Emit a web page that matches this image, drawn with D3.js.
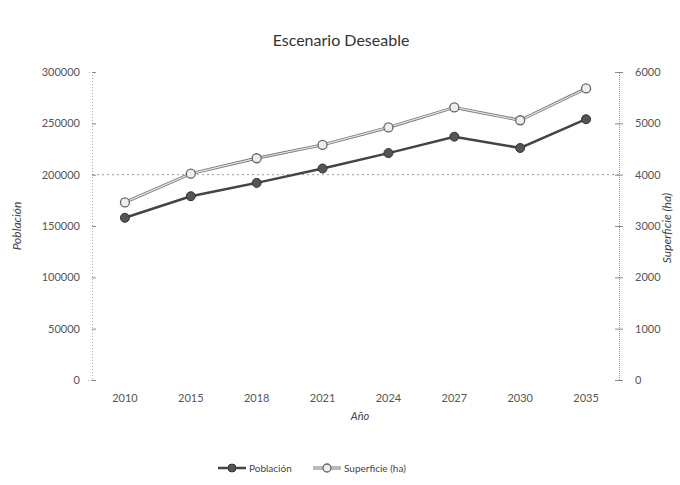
<!DOCTYPE html>
<html>
<head>
<meta charset="utf-8">
<script src="https://cdn.jsdelivr.net/npm/d3@7"></script>
<style>
  body { margin: 0; background: #fff; }
  text { font-family: Lato, "Open Sans", sans-serif; fill: #444; }
</style>
</head>
<body>
<div id="chart"></div>
<script>
const WIDTH = 680;
const HEIGHT = 485;
const YEARS = ['2010', '2015', '2018', '2021', '2024', '2027', '2030', '2035'];
const POBLACION = [158000, 179000, 192000, 206000, 221000, 237000, 226000, 254000];
const SUPERFICIE = [3460, 4020, 4320, 4580, 4920, 5310, 5060, 5680];
const LEFT_TICKS = [0, 50000, 100000, 150000, 200000, 250000, 300000];
const RIGHT_TICKS = [0, 1000, 2000, 3000, 4000, 5000, 6000];

const margin = {top: 72, right: 61, bottom: 105, left: 92};
const innerW = WIDTH - margin.left - margin.right;
const innerH = HEIGHT - margin.top - margin.bottom;

const svg = d3.select('#chart').append('svg')
  .attr('width', WIDTH)
  .attr('height', HEIGHT);

const g = svg.append('g')
  .attr('transform', `translate(${margin.left},${margin.top})`);

const x = d3.scaleBand().domain(YEARS).range([0, innerW]);
const yLeft = d3.scaleLinear().domain([0, 300000]).range([innerH, 0]);
const yRight = d3.scaleLinear().domain([0, 6000]).range([innerH, 0]);

// title
svg.append('text')
  .attr('x', 341)
  .attr('y', 46)
  .attr('text-anchor', 'middle')
  .style('font-size', '16px')
  .style('fill', '#333')
  .text('Escenario Deseable');

// gridline (only the 200000 one survives in the scan)
g.append('line')
  .attr('x1', 0).attr('x2', innerW)
  .attr('y1', yLeft(200000)).attr('y2', yLeft(200000))
  .attr('stroke', '#999')
  .attr('stroke-dasharray', '2,3');

// left axis
const leftAxis = g.append('g')
  .call(d3.axisLeft(yLeft).tickValues(LEFT_TICKS).tickFormat(d3.format('d')).tickSize(4).tickPadding(8));
leftAxis.select('.domain').attr('stroke', '#aaa').attr('stroke-dasharray', '1,2');
leftAxis.selectAll('.tick line').attr('stroke', '#888').attr('x2', 4);
leftAxis.selectAll('text').style('font-size', '11px').style('fill', '#555');

// right axis
const rightAxis = g.append('g')
  .attr('transform', `translate(${innerW},0)`)
  .call(d3.axisRight(yRight).tickValues(RIGHT_TICKS).tickFormat(d3.format('d')).tickSize(4).tickPadding(12));
rightAxis.select('.domain').attr('stroke', '#999').attr('stroke-dasharray', '1,1');
rightAxis.selectAll('.tick line').attr('stroke', '#888').attr('x1', -4);
rightAxis.selectAll('text').style('font-size', '11px').style('fill', '#555');

// x axis labels
const xAxis = g.append('g')
  .attr('transform', `translate(0,${innerH})`)
  .call(d3.axisBottom(x).tickSize(0).tickPadding(14));
xAxis.select('.domain').remove();
xAxis.selectAll('text').style('font-size', '11px').style('fill', '#555');

// axis titles
svg.append('text')
  .attr('transform', 'translate(21,226) rotate(-90)')
  .attr('text-anchor', 'middle')
  .style('font-size', '12px')
  .style('font-style', 'italic')
  .text('Población');
svg.append('text')
  .attr('transform', 'translate(671,228) rotate(-90)')
  .attr('text-anchor', 'middle')
  .style('font-size', '12px')
  .style('font-style', 'italic')
  .text('Superficie (ha)');
svg.append('text')
  .attr('x', 360)
  .attr('y', 420)
  .attr('text-anchor', 'middle')
  .style('font-size', '11px')
  .style('font-style', 'italic')
  .text('Año');

const cx = d => x(d) + x.bandwidth() / 2;

// Superficie line (hollow look)
const supLine = d3.line().x((d, i) => cx(YEARS[i])).y(d => yRight(d));
g.append('path').datum(SUPERFICIE)
  .attr('d', supLine).attr('fill', 'none')
  .attr('stroke', '#777').attr('stroke-width', 3);
g.append('path').datum(SUPERFICIE)
  .attr('d', supLine).attr('fill', 'none')
  .attr('stroke', '#e6e6e6').attr('stroke-width', 1.2);
g.selectAll('.sup-dot')
  .data(SUPERFICIE)
  .enter()
  .append('circle')
  .attr('class', 'sup-dot')
  .attr('cx', (d, i) => cx(YEARS[i]))
  .attr('cy', d => yRight(d))
  .attr('r', 4.5)
  .attr('fill', '#eee')
  .attr('stroke', '#666')
  .attr('stroke-width', 1.3);

// Población line
const pobLine = d3.line().x((d, i) => cx(YEARS[i])).y(d => yLeft(d));
g.append('path').datum(POBLACION)
  .attr('d', pobLine).attr('fill', 'none')
  .attr('stroke', '#444').attr('stroke-width', 2.5);
g.selectAll('.pob-dot')
  .data(POBLACION)
  .enter()
  .append('circle')
  .attr('class', 'pob-dot')
  .attr('cx', (d, i) => cx(YEARS[i]))
  .attr('cy', d => yLeft(d))
  .attr('r', 4.5)
  .attr('fill', '#555')
  .attr('stroke', '#333')
  .attr('stroke-width', 1);

// legend
const legend = svg.append('g').attr('transform', 'translate(0,468)');
legend.append('line').attr('x1', 218).attr('x2', 246).attr('y1', 0).attr('y2', 0)
  .attr('stroke', '#444').attr('stroke-width', 2.5);
legend.append('circle').attr('cx', 232).attr('cy', 0).attr('r', 4)
  .attr('fill', '#555').attr('stroke', '#333');
legend.append('text').attr('x', 249).attr('y', 4)
  .style('font-size', '10px').text('Población');
legend.append('line').attr('x1', 313).attr('x2', 341).attr('y1', 0).attr('y2', 0)
  .attr('stroke', '#777').attr('stroke-width', 3);
legend.append('line').attr('x1', 313).attr('x2', 341).attr('y1', 0).attr('y2', 0)
  .attr('stroke', '#e6e6e6').attr('stroke-width', 1.2);
legend.append('circle').attr('cx', 327).attr('cy', 0).attr('r', 4)
  .attr('fill', '#eee').attr('stroke', '#666').attr('stroke-width', 1.3);
legend.append('text').attr('x', 344).attr('y', 4)
  .style('font-size', '10px').text('Superficie (ha)');
</script>
</body>
</html>
